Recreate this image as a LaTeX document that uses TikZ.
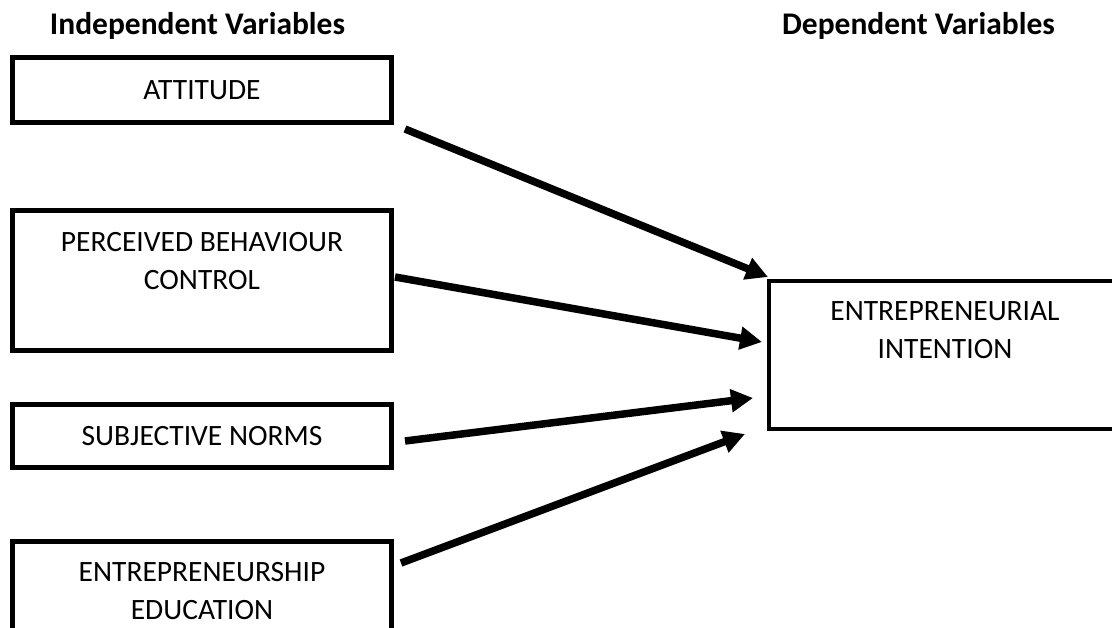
\documentclass[tikz,border=0pt]{standalone}
\usepackage{fontspec}
\setmainfont{Carlito}
\usetikzlibrary{arrows.meta,positioning}
\newcommand{\boxfont}{\fontsize{29.5}{38}\selectfont}
\newcommand{\headfont}{\fontsize{31.5}{36}\selectfont\bfseries}
\tikzset{
	varbox/.style  = {draw, line width = 5pt, rectangle, minimum width = 379pt,
		inner sep = 0pt, align = center, font = \boxfont},
	depbox/.style  = {draw, line width = 3.5pt, rectangle, minimum width = 352pt,
		minimum height = 148pt},
	boxtext/.style = {align = center, font = \boxfont, inner sep = 0pt},
	heading/.style = {font = \headfont, anchor = base, inner sep = 0pt},
	link/.style    = {->, line width = 7.5pt} % Arrow
}

\begin{document}
\begin{tikzpicture}[x=1pt, y=-1pt, >={Triangle[length=22pt, width=22pt]}]
		\useasboundingbox (0,0) rectangle (1112,628);
		% Headings
		\node[heading] (indep) at (197.5,35) {Independent Variables};
		\node[heading] (dep) at (918.5,35) {Dependent Variables};
		
		% Independent variable blocks
		\node[varbox, minimum height = 65pt] (att) at (202,90) {ATTITUDE};
		\node[varbox, minimum height = 140pt] (pbc) at (202,280.5) {};
		\node[boxtext] (pbctext) at (202,261.5) {PERCEIVED BEHAVIOUR\\CONTROL};
		\node[varbox, minimum height = 62.5pt] (sn) at (202,436) {SUBJECTIVE NORMS};
		\node[varbox, minimum height = 90pt] (ee) at (202,586) {};
		\node[boxtext] (eetext) at (202,591) {ENTREPRENEURSHIP\\EDUCATION};
		
		% Dependent variable block
		\node[depbox] (ei) at (945,355) {};
		\node[boxtext] (eitext) at (945,330) {ENTREPRENEURIAL\\INTENTION};
		
		% Arrow ends
		\coordinate (attout) at (405,129);
		\coordinate (pbcout) at (395,277);
		\coordinate (snout) at (405,441);
		\coordinate (eeout) at (401,563);
		\coordinate (eiin1) at (768,277);
		\coordinate (eiin2) at (762,342);
		\coordinate (eiin3) at (753,398);
		\coordinate (eiin4) at (745,434);
		
		\draw[link] (attout) -- (eiin1);
		\draw[link] (pbcout) -- (eiin2);
		\draw[link] (snout) -- (eiin3);
		\draw[link] (eeout) -- (eiin4);
\end{tikzpicture}
\end{document}
